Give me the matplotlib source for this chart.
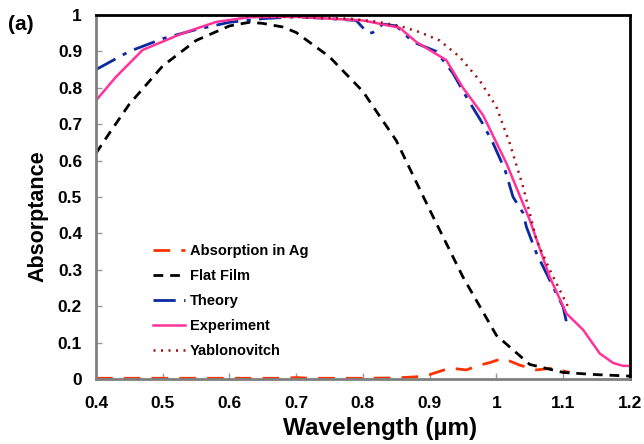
import matplotlib
matplotlib.use("Agg")
import matplotlib.pyplot as plt
from matplotlib.ticker import FuncFormatter

plt.rcParams['font.family'] = ['Liberation Sans', 'DejaVu Sans']
plt.rcParams['font.weight'] = 'bold'

# Data
ag_x = [0.40, 0.50, 0.60, 0.68, 0.70, 0.72, 0.80, 0.85, 0.88, 0.90, 0.93, 0.955, 0.975, 0.99, 1.01, 1.035, 1.06, 1.085, 1.105, 1.11]
ag_y = [0.002, 0.002, 0.002, 0.002, 0.004, 0.002, 0.002, 0.003, 0.006, 0.012, 0.030, 0.025, 0.038, 0.045, 0.057, 0.038, 0.025, 0.030, 0.020, 0.018]

flat_x = [0.40, 0.42, 0.45, 0.50, 0.55, 0.60, 0.63, 0.65, 0.68, 0.70, 0.75, 0.80, 0.85, 0.90, 0.95, 1.00, 1.05, 1.10, 1.15, 1.20]
flat_y = [0.62, 0.675, 0.755, 0.86, 0.93, 0.97, 0.98, 0.977, 0.967, 0.952, 0.885, 0.79, 0.655, 0.465, 0.28, 0.12, 0.04, 0.018, 0.012, 0.008]

theory_x = [0.40, 0.45, 0.50, 0.55, 0.60, 0.65, 0.70, 0.75, 0.79, 0.80, 0.805, 0.81, 0.815, 0.82, 0.83, 0.85, 0.875, 0.91, 0.935, 0.955, 0.98, 0.995, 1.013, 1.025, 1.04, 1.045, 1.06, 1.085, 1.10, 1.107]
theory_y = [0.85, 0.90, 0.935, 0.96, 0.98, 0.99, 0.995, 0.99, 0.985, 0.965, 0.955, 0.95, 0.952, 0.96, 0.975, 0.97, 0.926, 0.90, 0.84, 0.775, 0.70, 0.648, 0.574, 0.50, 0.456, 0.418, 0.346, 0.253, 0.198, 0.14]

exp_x = [0.40, 0.43, 0.47, 0.53, 0.58, 0.63, 0.70, 0.75, 0.80, 0.855, 0.88, 0.925, 0.95, 0.98, 1.015, 1.05, 1.08, 1.105, 1.13, 1.155, 1.175, 1.19, 1.20]
exp_y = [0.765, 0.83, 0.904, 0.95, 0.981, 0.994, 0.995, 0.99, 0.985, 0.965, 0.926, 0.876, 0.80, 0.725, 0.593, 0.437, 0.28, 0.18, 0.135, 0.07, 0.044, 0.036, 0.036]

yab_x = [0.40, 0.50, 0.60, 0.70, 0.78, 0.82, 0.855, 0.885, 0.915, 0.945, 0.975, 1.00, 1.02, 1.04, 1.05, 1.06, 1.08, 1.107]
yab_y = [1.0, 1.0, 0.998, 0.995, 0.99, 0.982, 0.97, 0.953, 0.93, 0.885, 0.82, 0.748, 0.648, 0.528, 0.456, 0.382, 0.30, 0.20]

xticks = [0.4, 0.5, 0.6, 0.7, 0.8, 0.9, 1.0, 1.1, 1.2]
yticks = [0, 0.1, 0.2, 0.3, 0.4, 0.5, 0.6, 0.7, 0.8, 0.9, 1.0]

fig = plt.figure(figsize=(6.44, 4.44), dpi=100)
ax = fig.add_axes([0.149, 0.1464, 0.829, 0.8198])

ax.plot(ag_x, ag_y, color='#ff3300', lw=2, dashes=(6, 4), label='Absorption in Ag')
ax.plot(flat_x, flat_y, color='black', lw=2, dashes=(3.5, 2.5), label='Flat Film')
ax.plot(theory_x, theory_y, color='#0a2aa0', lw=2, dashes=(8, 3, 1.5, 3), label='Theory')
ax.plot(exp_x, exp_y, color='#ff3399', lw=1.8, label='Experiment')
ax.plot(yab_x, yab_y, color='#a01010', lw=1.8, dashes=(0.8, 2.2), label='Yablonovitch')

ax.set_xlim(0.4, 1.2)
ax.set_ylim(0, 1.0)
ax.set_xticks(xticks)
ax.set_yticks(yticks)
fmt = FuncFormatter(lambda v, p: ('%g' % round(v, 2)))
ax.xaxis.set_major_formatter(fmt)
ax.yaxis.set_major_formatter(fmt)
ax.tick_params(direction='in', length=4, width=1, color='#999999', labelsize=12.5)
ax.tick_params(axis='x', pad=12)
ax.tick_params(axis='y', pad=10)
for lab in ax.get_xticklabels() + ax.get_yticklabels():
    lab.set_fontweight('bold')

for s in ['left', 'bottom']:
    ax.spines[s].set_color('#808080')
    ax.spines[s].set_linewidth(2)
for s in ['top', 'right']:
    ax.spines[s].set_color('black')
    ax.spines[s].set_linewidth(2)

ax.set_xlabel('Wavelength (µm)', fontsize=17.5, fontweight='bold')
ax.xaxis.set_label_coords(0.532, -0.105)
ax.set_ylabel('Absorptance', fontsize=15.5, fontweight='bold')
ax.yaxis.set_label_coords(-0.089, 0.448)

fig.text(0.012, 0.966, '(a)', fontsize=15, fontweight='bold', va='top', ha='left')

leg = ax.legend(loc='upper left', bbox_to_anchor=(0.083, 0.407), frameon=False,
                handlelength=2.2, handletextpad=0.3, labelspacing=0.75,
                prop={'weight': 'bold', 'size': 10.5})

fig.savefig('out.png', dpi=100)
